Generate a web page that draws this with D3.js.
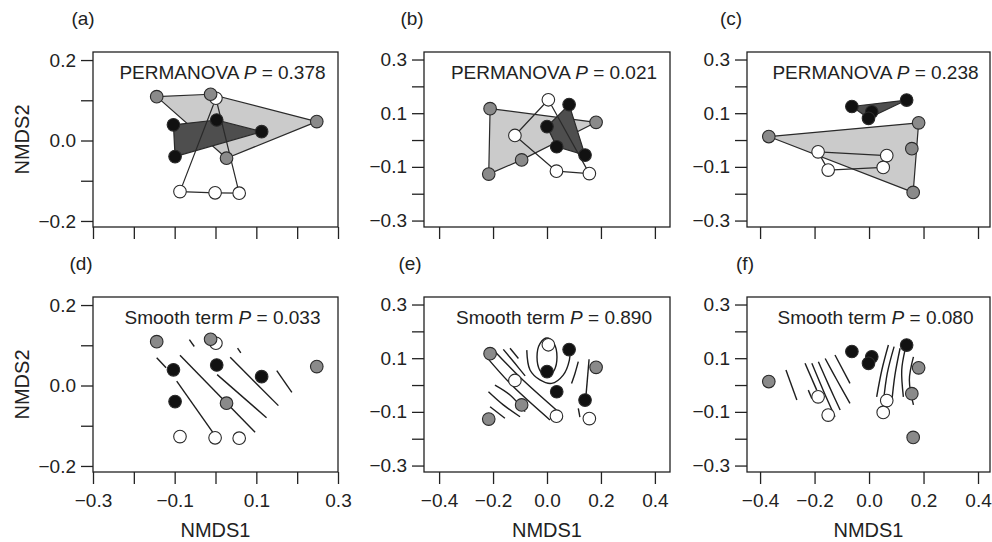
<!DOCTYPE html>
<html>
<head>
<meta charset="utf-8">
<script src="https://cdn.jsdelivr.net/npm/d3@7"></script>
<style>
body { margin: 0; background: #fff; }
text { font-family: "Liberation Sans", Arial, sans-serif; fill: #222; }
</style>
</head>
<body>
<script>
// ---- data: NMDS scores per site, three groups of four plots ----
var site1White = [[0.001, 0.105], [-0.087, -0.127], [-0.001, -0.130], [0.058, -0.131]];
var site1Black = [[-0.103, 0.039], [0.003, 0.051], [0.113, 0.022], [-0.099, -0.040]];
var site1Gray  = [[-0.144, 0.109], [-0.012, 0.115], [0.248, 0.047], [0.027, -0.044]];

var site2White = [[0.005, 0.150], [-0.119, 0.017], [0.035, -0.116], [0.157, -0.125]];
var site2Black = [[0.082, 0.132], [0.000, 0.050], [0.036, -0.025], [0.141, -0.056]];
var site2Gray  = [[-0.211, 0.117], [0.182, 0.066], [-0.094, -0.074], [-0.216, -0.127]];

var site3White = [[-0.187, -0.044], [-0.150, -0.112], [0.065, -0.058], [0.052, -0.102]];
var site3Black = [[-0.063, 0.125], [0.010, 0.105], [-0.002, 0.081], [0.138, 0.149]];
var site3Gray  = [[-0.368, 0.013], [0.182, 0.064], [0.157, -0.032], [0.162, -0.195]];

// contour lines of the fitted surfaces (ordisurf)
var contourD = [
  [[-0.144, 0.069], [-0.121, 0.044]],
  [[-0.095, 0.011], [-0.007, -0.116]],
  [[-0.087, 0.075], [0.097, -0.116]],
  [[-0.064, 0.114], [-0.052, 0.097]],
  [[0.004, 0.027], [0.125, -0.080]],
  [[0.036, 0.070], [0.154, -0.050]],
  [[0.054, 0.093], [0.062, 0.081]],
  [[0.150, 0.037], [0.187, -0.017]]
];
var contourE = [
  [[-0.196, 0.128], [-0.100, 0.029], [0.046, -0.103]],
  [[-0.223, 0.103], [-0.131, 0.000], [0.011, -0.130]],
  [[-0.162, 0.133], [-0.119, 0.081], [-0.081, 0.034]],
  [[-0.137, 0.137], [-0.106, 0.099]],
  [[-0.075, 0.130], [-0.063, 0.056], [-0.026, 0.019], [0.017, 0.006], [0.060, 0.037], [0.083, 0.093], [0.085, 0.130]],
  [[0.116, 0.087], [0.104, 0.044], [0.091, 0.006]],
  [[0.156, 0.096], [0.144, -0.046]],
  [[-0.217, -0.025], [-0.162, -0.074], [-0.100, -0.118]],
  [[-0.193, 0.000], [-0.137, -0.037], [-0.081, -0.099]],
  [[-0.211, -0.081], [-0.156, -0.124]],
  [[0.116, -0.087], [0.122, -0.120]]
];
var contourEClosed = [
  [[0.000, 0.175], [0.026, 0.154], [0.037, 0.104], [0.026, 0.054], [0.000, 0.033], [-0.026, 0.054], [-0.037, 0.104], [-0.026, 0.154]]
];
var contourF = [
  [[-0.305, 0.056], [-0.265, -0.056]],
  [[-0.235, 0.081], [-0.192, -0.019]],
  [[-0.210, 0.081], [-0.168, -0.020], [-0.125, -0.118]],
  [[-0.186, 0.087], [-0.146, -0.005], [-0.106, -0.093]],
  [[-0.161, 0.099], [-0.116, 0.015], [-0.070, -0.068]],
  [[-0.125, 0.112], [-0.070, 0.006]],
  [[-0.223, -0.019], [-0.210, -0.050]],
  [[0.028, -0.044], [0.047, 0.056], [0.071, 0.149]],
  [[0.053, -0.062], [0.067, 0.044], [0.092, 0.143]],
  [[0.083, -0.068], [0.095, 0.037], [0.114, 0.137]],
  [[0.126, -0.044], [0.120, 0.056], [0.132, 0.130]],
  [[0.163, -0.074], [0.148, 0.019], [0.163, 0.105]]
];

// ---- axes, ticks and labels ----
var xTicks1 = [-0.3, -0.2, -0.1, 0, 0.1, 0.2, 0.3];
var xLabels1 = [-0.3, -0.1, 0.1, 0.3];
var yTicks1 = [-0.2, -0.1, 0, 0.1, 0.2];
var yLabels1 = [-0.2, 0, 0.2];
var xTicks23 = [-0.4, -0.2, 0, 0.2, 0.4];
var xLabels23 = [-0.4, -0.2, 0, 0.2, 0.4];
var yTicks23 = [-0.3, -0.2, -0.1, 0, 0.1, 0.2, 0.3];
var yLabels23 = [-0.3, -0.1, 0.1, 0.3];

var permanovaP = ["0.378", "0.021", "0.238"];
var smoothP = ["0.033", "0.890", "0.080"];
var topLetters = ["(a)", "(b)", "(c)"];
var bottomLetters = ["(d)", "(e)", "(f)"];

var W = 992, H = 542;
var svg = d3.select("body").append("svg").attr("width", W).attr("height", H);

var cols = [
  {x0: 93, x1: 338, xd: [-0.3, 0.3], xt: xTicks1, xl: xLabels1, yd: [-0.215, 0.22], yt: yTicks1, yl: yLabels1},
  {x0: 424, x1: 670, xd: [-0.456, 0.456], xt: xTicks23, xl: xLabels23, yd: [-0.324, 0.328], yt: yTicks23, yl: yLabels23},
  {x0: 747, x1: 990, xd: [-0.448, 0.444], xt: xTicks23, xl: xLabels23, yd: [-0.324, 0.328], yt: yTicks23, yl: yLabels23}
];
var rows = [{y0: 52, y1: 227}, {y0: 297, y1: 472}];
var sites = [
  {white: site1White, black: site1Black, gray: site1Gray},
  {white: site2White, black: site2Black, gray: site2Gray},
  {white: site3White, black: site3Black, gray: site3Gray}
];
var contours = [contourD, contourE, contourF];
var closedContours = [[], contourEClosed, []];

var fmt = d3.format(".1f");
function hasVal(arr, v) { return arr.some(function(a) { return Math.abs(a - v) < 1e-9; }); }

function drawPanel(ci, ri) {
  var c = cols[ci], r = rows[ri], s = sites[ci];
  var x = d3.scaleLinear().domain(c.xd).range([c.x0, c.x1]);
  var y = d3.scaleLinear().domain(c.yd).range([r.y1, r.y0]);
  var g = svg.append("g");
  var toPx = function(p) { return [x(p[0]), y(p[1])]; };

  if (ri == 0) {
    // convex hulls of each group
    var hulls = [
      {pts: s.gray, fill: "#cbcbcb"},
      {pts: s.black, fill: "#4e4e4e"},
      {pts: s.white, fill: "none"}
    ];
    hulls.forEach(function(h) {
      var hull = d3.polygonHull(h.pts.map(toPx));
      g.append("path").attr("d", "M" + hull.join("L") + "Z")
        .attr("fill", h.fill).attr("stroke", "#2a2a2a").attr("stroke-width", 1.2)
        .attr("stroke-linejoin", "round");
    });
  } else {
    var line = d3.line().x(function(d) { return x(d[0]); }).y(function(d) { return y(d[1]); })
      .curve(d3.curveCatmullRom);
    g.selectAll("path.ct").data(contours[ci]).enter().append("path")
      .attr("d", line).attr("fill", "none").attr("stroke", "#1e1e1e").attr("stroke-width", 1.4);
    var closed = d3.line().x(function(d) { return x(d[0]); }).y(function(d) { return y(d[1]); })
      .curve(d3.curveCatmullRomClosed);
    g.selectAll("path.cc").data(closedContours[ci]).enter().append("path")
      .attr("d", closed).attr("fill", "none").attr("stroke", "#1e1e1e").attr("stroke-width", 1.4);
  }

  // points
  var groups = [
    {pts: s.white, fill: "#ffffff"},
    {pts: s.black, fill: "#111111"},
    {pts: s.gray, fill: "#8a8a8a"}
  ];
  groups.forEach(function(gr) {
    g.selectAll(null).data(gr.pts).enter().append("circle")
      .attr("cx", function(d) { return x(d[0]); })
      .attr("cy", function(d) { return y(d[1]); })
      .attr("r", 6.3)
      .attr("fill", gr.fill).attr("stroke", "#2a2a2a").attr("stroke-width", 1.1);
  });

  // frame
  g.append("rect").attr("x", c.x0).attr("y", r.y0)
    .attr("width", c.x1 - c.x0).attr("height", r.y1 - r.y0)
    .attr("fill", "none").attr("stroke", "#222").attr("stroke-width", 1.3);

  // axes
  var ax = g.append("g").attr("transform", "translate(0," + r.y1 + ")")
    .call(d3.axisBottom(x).tickValues(c.xt).tickSize(12).tickPadding(10)
      .tickFormat(function(d) { return (ri == 1 && hasVal(c.xl, d)) ? fmt(d) : ""; }));
  var ay = g.append("g").attr("transform", "translate(" + c.x0 + ",0)")
    .call(d3.axisLeft(y).tickValues(c.yt).tickSize(12).tickPadding(5)
      .tickFormat(function(d) { return hasVal(c.yl, d) ? fmt(d) : ""; }));
  [ax, ay].forEach(function(a) {
    a.select(".domain").remove();
    a.selectAll("line").attr("stroke", "#222").attr("stroke-width", 1.3);
    a.selectAll("text").style("font-size", "19px").attr("fill", "#222");
  });

  // annotation
  var cx = (c.x0 + c.x1) / 2 + 7;
  var t = g.append("text").attr("x", cx).attr("y", r.y0 + 27)
    .attr("text-anchor", "middle").style("font-size", "19px");
  t.append("tspan").text(ri == 0 ? "PERMANOVA " : "Smooth term ");
  t.append("tspan").style("font-style", "italic").text("P");
  t.append("tspan").text(" = " + (ri == 0 ? permanovaP[ci] : smoothP[ci]));

  // panel letter
  var lx = [83, 412, 731][ci] + (ri == 1 ? [-2, -2, 14][ci] : 0);
  g.append("text").attr("x", lx).attr("y", r.y0 - 27)
    .attr("text-anchor", "middle").style("font-size", "19px")
    .text(ri == 0 ? topLetters[ci] : bottomLetters[ci]);

  // axis titles
  if (ci == 0) {
    g.append("text").attr("transform", "translate(22," + ((r.y0 + r.y1) / 2) + ") rotate(-90)")
      .attr("text-anchor", "middle").attr("dy", "0.35em").style("font-size", "20px").text("NMDS2");
  }
  if (ri == 1) {
    g.append("text").attr("x", (c.x0 + c.x1) / 2).attr("y", 537)
      .attr("text-anchor", "middle").style("font-size", "20px").text("NMDS1");
  }
}

for (var ri = 0; ri < 2; ri++) {
  for (var ci = 0; ci < 3; ci++) drawPanel(ci, ri);
}
</script>
</body>
</html>
